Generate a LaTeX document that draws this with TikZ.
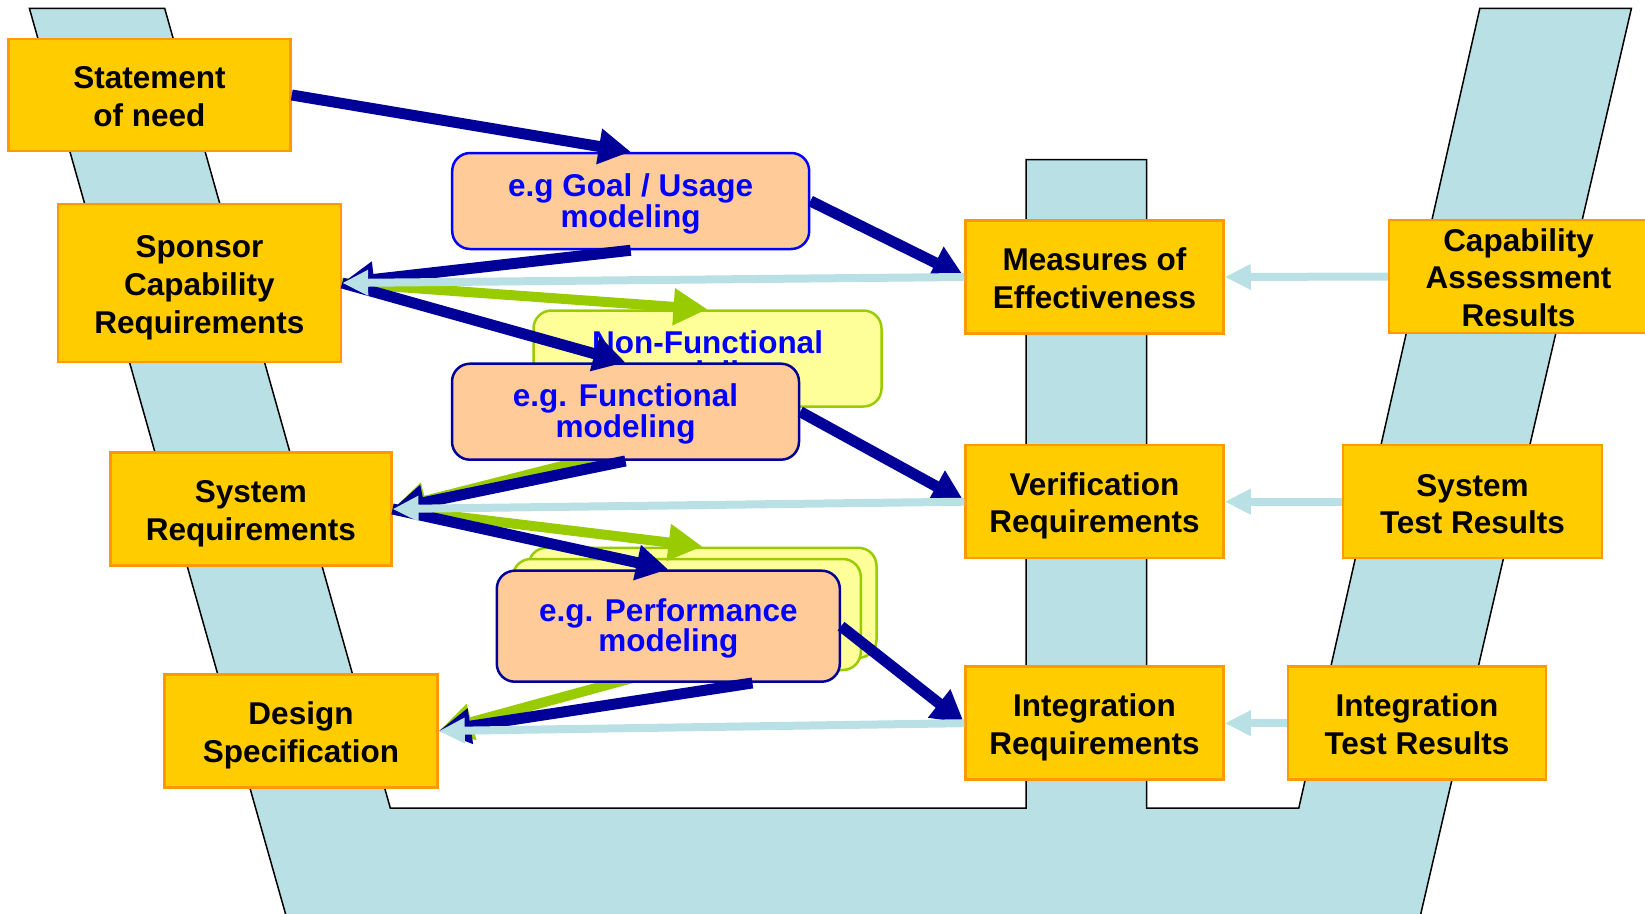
\documentclass[tikz,border=0pt]{standalone}
\usepackage{fontspec}
\setmainfont{Liberation Sans}
\usepackage{tikz}
\usetikzlibrary{arrows.meta}

\definecolor{bandblue}{RGB}{185,224,228}
\definecolor{boxyellow}{RGB}{255,204,0}
\definecolor{boxorange}{RGB}{255,153,0}
\definecolor{peach}{RGB}{255,204,153}
\definecolor{navy}{RGB}{0,0,153}
\definecolor{paleyellow}{RGB}{255,255,153}
\definecolor{limegreen}{RGB}{153,204,0}
\definecolor{textblue}{RGB}{0,0,255}

% taller first line, to move a box text down a little
\newcommand{\topstrut}[1]{\rule{0pt}{#1}}

\begin{document}
\begin{tikzpicture}[x=1pt, y=-1pt,
  yellowbox/.style={draw=boxorange, line width=2.5pt, fill=boxyellow, inner sep=0pt, align=center,
    font=\fontsize{31.5}{37.8}\selectfont\bfseries},
  modelbox/.style={draw=navy, line width=2.5pt, fill=peach, rounded corners=18pt, inner sep=0pt,
    align=center, text=textblue, minimum height=96pt, font=\fontsize{31.5}{30.5}\selectfont\bfseries},
  nfbox/.style={draw=limegreen, line width=2.5pt, fill=paleyellow, rounded corners=18pt, inner sep=0pt,
    align=center, text=textblue, minimum width=348pt, minimum height=96pt,
    font=\fontsize{31.5}{30.5}\selectfont\bfseries},
  navyarrow/.style={draw=navy, line width=11pt, -{Triangle[length=32pt, width=34pt]}},
  greenarrow/.style={draw=limegreen, line width=10pt, -{Triangle[length=34pt, width=35pt]}},
  bluearrow/.style={draw=bandblue, line width=8pt, -{Triangle[length=26pt, width=24pt]}}]
  \useasboundingbox (0,0) rectangle (1645,913);

  % the V band
  \filldraw[fill=bandblue, draw=black, line width=1.5pt] (290.1,930) -- (29.4,8.4) -- (164.7,8.4)
    -- (390.3,808) -- (1026,808) -- (1026,159.5) -- (1146.6,159.5) -- (1146.6,808) -- (1298.8,808)
    -- (1479.8,8.4) -- (1631.4,8.4) -- (1417,930) -- cycle;

  % left side
  \node[yellowbox, minimum width=282pt, minimum height=112pt] (stmt) at (149.5,95) {\topstrut{25pt}Statement\\of need};
  \node[yellowbox, minimum width=283pt, minimum height=158pt] (sponsor) at (199.4,283) {\topstrut{31pt}Sponsor\\Capability\\Requirements};
  \node[yellowbox, minimum width=281pt, minimum height=113pt] (sysreq) at (250.8,509) {\topstrut{31pt}System\\Requirements};
  \node[yellowbox, minimum width=273pt, minimum height=113pt] (design) at (301,731) {\topstrut{31pt}Design\\Specification};

  % middle and right side
  \node[yellowbox, minimum width=258pt, minimum height=113pt] (meas) at (1094.5,277) {\topstrut{25pt}Measures of\\Effectiveness};
  \node[yellowbox, minimum width=258pt, minimum height=113pt] (verif) at (1094.5,501.7) {\topstrut{31pt}Verification\\Requirements};
  \node[yellowbox, minimum width=258pt, minimum height=113pt] (integ) at (1094.5,723.2) {\topstrut{31pt}Integration\\Requirements};
  \node[yellowbox, minimum width=259pt, minimum height=113pt] (capres) at (1518.5,276.5) {\topstrut{25pt}Capability\\Assessment\\Results};
  \node[yellowbox, minimum width=259pt, minimum height=113pt] (systest) at (1472.5,501.7) {\topstrut{27pt}System\\Test Results};
  \node[yellowbox, minimum width=258pt, minimum height=113pt] (inttest) at (1417,723.2) {\topstrut{25pt}Integration\\Test Results};

  % models behind
  \node[nfbox] (nonfunc) at (707.5,358.5) {\topstrut{27pt}Non-Functional\\modeling};
  \node[nfbox, minimum height=110pt] (perfback) at (702.5,602.8) {};
  \node[nfbox, minimum height=111pt] (perfmid) at (686.8,614.5) {};

  \coordinate (nfsrc) at (700,431);
  \coordinate (pfsrc) at (680,665);
  \draw[greenarrow] (sponsor.east) -- (nonfunc.north);
  \draw[greenarrow] (nfsrc) -- (sysreq.east);
  \draw[greenarrow] (sysreq.east) -- (perfback.north);
  \draw[greenarrow] (pfsrc) -- (design.east);

  % models in front
  \node[modelbox, draw=textblue, minimum width=357pt] (goal) at (630.7,201) {\topstrut{29pt}e.g Goal / Usage\\modeling};
  \node[modelbox, minimum width=347pt] (func) at (625.5,411.7) {\topstrut{27pt}e.g. Functional\\modeling};
  \node[modelbox, minimum width=343pt, minimum height=111pt] (perf) at (668.3,626.2) {\topstrut{27pt}e.g. Performance\\modeling};

  \draw[navyarrow] (stmt.east) -- (goal.north);
  \draw[navyarrow] (goal.east) -- (meas.west);
  \draw[navyarrow] (goal.south) -- (sponsor.east);
  \draw[navyarrow] (sponsor.east) -- (func.north);
  \draw[navyarrow] (func.east) -- (verif.west);
  \draw[navyarrow] (func.south) -- (sysreq.east);
  \draw[navyarrow] (sysreq.east) -- (perf.north);
  \draw[navyarrow] (perf.east) -- (integ.west);
  \draw[navyarrow] (perf.-34) -- (design.east);

  \draw[bluearrow] (capres.west) -- (meas.east);
  \draw[bluearrow] (meas.west) -- (sponsor.east);
  \draw[bluearrow] (systest.west) -- (verif.east);
  \draw[bluearrow] (verif.west) -- (sysreq.east);
  \draw[bluearrow] (inttest.west) -- (integ.east);
  \draw[bluearrow] (integ.west) -- (design.east);
\end{tikzpicture}
\end{document}
